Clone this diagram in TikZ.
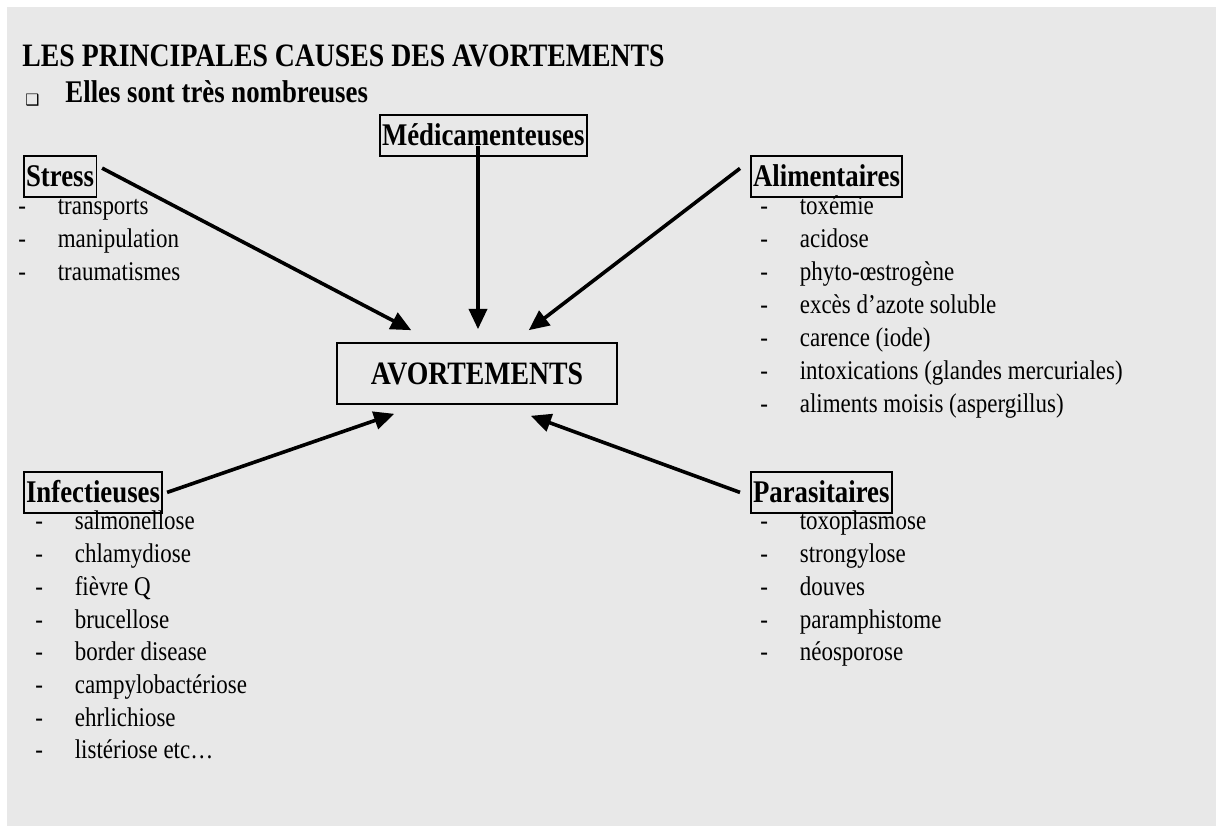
\documentclass[tikz,border=0pt]{standalone}
\usepackage{fontspec}
\setmainfont{Liberation Serif}[FakeStretch=0.85]
\newfontfamily\dingfont{DejaVu Sans}
\usetikzlibrary{arrows.meta}
\definecolor{pagegray}{RGB}{232,232,232}
\newcommand\itm[1]{\makebox[17.5pt][l]{-}#1}
\tikzset{
  cat/.style={draw, line width=0.7pt, inner xsep=1pt, inner ysep=0pt,
    text height=13.8pt, text depth=4.4pt, anchor=base west,
    font=\fontsize{14}{16}\selectfont\bfseries},
  item/.style={inner sep=0pt, anchor=base west, font=\fontsize{12}{14}\selectfont},
  arr/.style={-{Triangle[length=9pt,width=8pt]}, line width=1.6pt},
}
\begin{document}
\begin{tikzpicture}[x=0.444pt,y=-0.444pt]
    %page
    \useasboundingbox (0,0) rectangle (1216,826);
    \fill[white] (0,0) rectangle (1216,826);
    \fill[pagegray] (7,7) rectangle (1216,826);
    %title
    \node[item, font=\fontsize{14.5}{16}\selectfont\bfseries] (title) at (22,67) {LES PRINCIPALES CAUSES DES AVORTEMENTS};
    \node[item, font=\dingfont\fontsize{7}{8}\selectfont] (bul) at (25,106) {❑};
    \node[item, font=\fontsize{14}{16}\selectfont\bfseries] (sub) at (65,103) {Elles sont très nombreuses};
    %centre
    \node[draw, line width=0.7pt, minimum width=124.3pt, minimum height=27.1pt,
      font=\fontsize{14.5}{16}\selectfont\bfseries] (avo) at (477,373.5) {AVORTEMENTS};
    %causes
    \node[cat] (med) at (379,146) {Médicamenteuses};
    \node[cat] (str) at (23,187) {Stress};
    \node[cat] (ali) at (750,187) {Alimentaires};
    \node[cat] (inf) at (23,503) {Infectieuses};
    \node[cat] (par) at (750,503) {Parasitaires};
    %lists
    \foreach \t [count=\i] in {transports,manipulation,traumatismes}
        \node[item] (str\i) at (18,{215+33*(\i-1)}) {\itm{\t}};
    \foreach \t [count=\i] in {toxémie,acidose,phyto-œstrogène,excès d’azote soluble,
        carence (iode),intoxications (glandes mercuriales),aliments moisis (aspergillus)}
        \node[item] (ali\i) at (760,{215+33*(\i-1)}) {\itm{\t}};
    \foreach \t [count=\i] in {salmonellose,chlamydiose,fièvre Q,brucellose,border disease,
        campylobactériose,ehrlichiose,listériose etc…}
        \node[item] (inf\i) at (35,{530+32.7*(\i-1)}) {\itm{\t}};
    \foreach \t [count=\i] in {toxoplasmose,strongylose,douves,paramphistome,néosporose}
        \node[item] (par\i) at (760,{530+32.7*(\i-1)}) {\itm{\t}};
    %arrows
    \coordinate (tipM) at ([shift={(1,-13)}]avo.north);
    \draw[arr] ([shift={(5,13)}]str.north east) -- ([shift={(75,-12)}]avo.north west);
    \draw[arr] (med.base -| tipM) -- (tipM);
    \draw[arr] ([shift={(-10,-8)}]ali.west) -- ([shift={(-89,-12)}]avo.north east);
    \draw[arr] ([shift={(4,0)}]inf.east) -- ([shift={(58,9)}]avo.south west);
    \draw[arr] ([shift={(-10,0)}]par.west) -- ([shift={(-87,11)}]avo.south east);
\end{tikzpicture}
\end{document}
